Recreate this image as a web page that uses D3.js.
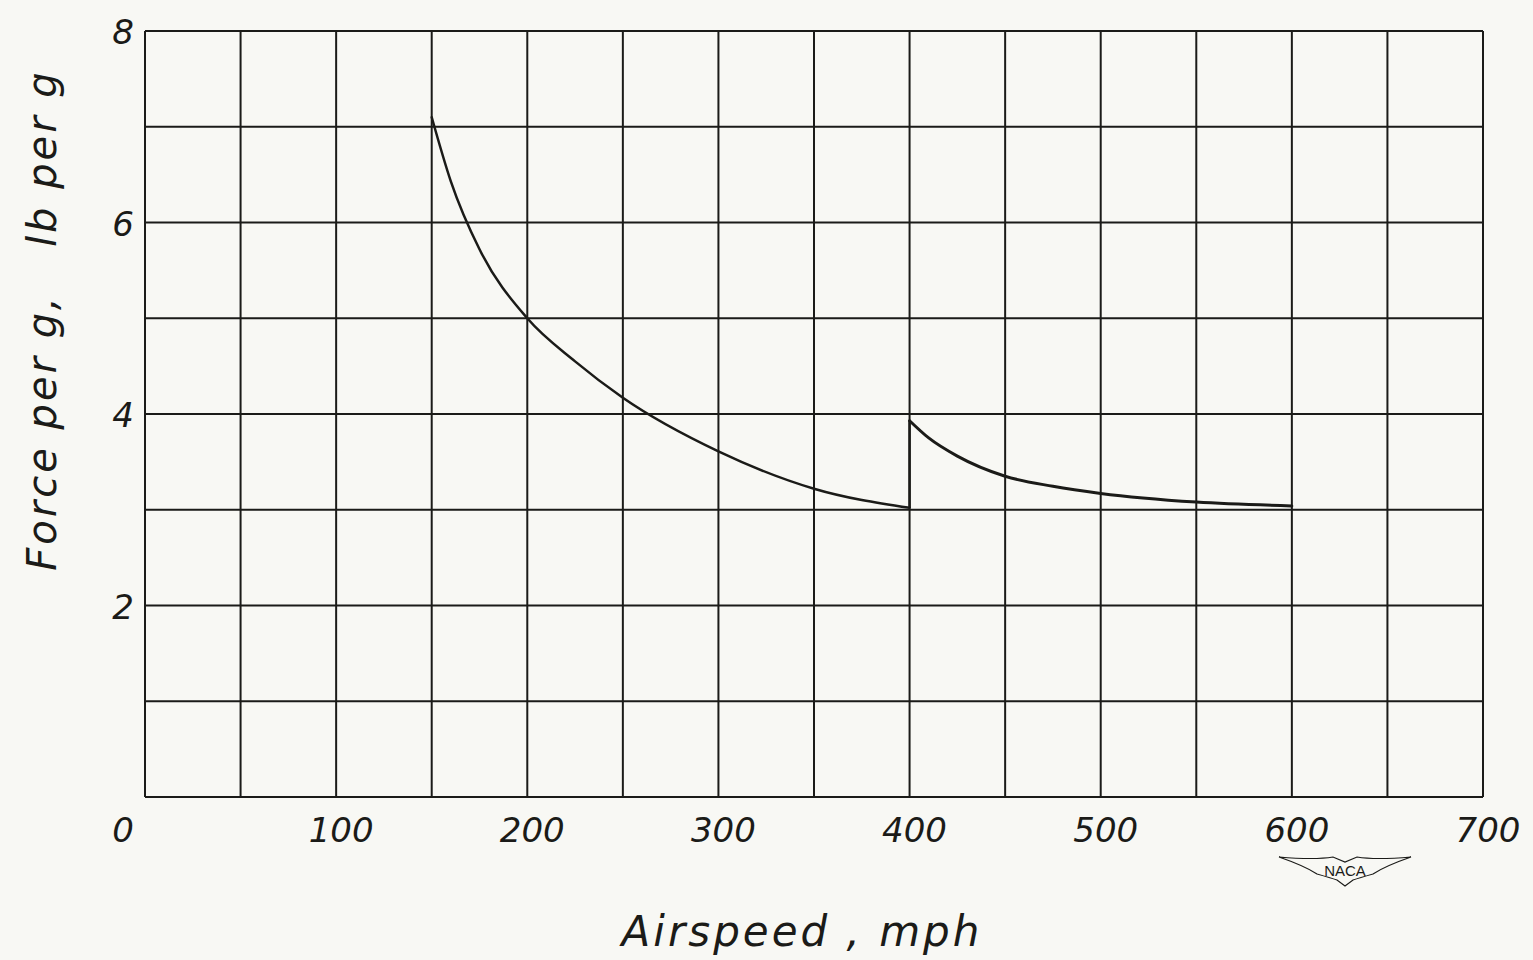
<!DOCTYPE html>
<html>
<head>
<meta charset="utf-8">
<script src="https://cdn.jsdelivr.net/npm/d3@7"></script>
<style>
  body { margin: 0; background: #f8f8f4; }
  svg { display: block; }
</style>
</head>
<body>
<svg id="chart"></svg>
<script>
// curve below 400 mph
var lowSpeed = [150, 160, 175, 200, 225, 250, 300, 350, 400];
var lowForce = [7.1, 6.43, 5.72, 5.0, 4.55, 4.17, 3.61, 3.22, 3.02];
// curve above 400 mph
var highSpeed = [400, 400, 410, 425, 450, 475, 500, 550, 600];
var highForce = [3.02, 3.93, 3.75, 3.56, 3.35, 3.245, 3.17, 3.08, 3.04];

var xTicks = [0, 100, 200, 300, 400, 500, 600, 700];
var yTicks = [2, 4, 6, 8];

var width = 1533, height = 960;
var plotLeft = 145, plotRight = 1483, plotTop = 31, plotBottom = 797;
var ink = "#1b1b18";
var handFont = "'DejaVu Sans', sans-serif";

var svg = d3.select("#chart")
    .attr("width", width)
    .attr("height", height);

svg.append("rect")
    .attr("width", width)
    .attr("height", height)
    .attr("fill", "#f8f8f4");

var x = d3.scaleLinear().domain([0, 700]).range([plotLeft, plotRight]);
var y = d3.scaleLinear().domain([0, 8]).range([plotBottom, plotTop]);

// grid, every 50 mph and every 1 lb
var grid = svg.append("g")
    .attr("stroke", ink)
    .attr("stroke-width", 2);

grid.selectAll("line.v")
    .data(d3.range(0, 701, 50))
    .join("line")
    .attr("class", "v")
    .attr("x1", d => x(d)).attr("x2", d => x(d))
    .attr("y1", y(0)).attr("y2", y(8));

grid.selectAll("line.h")
    .data(d3.range(0, 9, 1))
    .join("line")
    .attr("class", "h")
    .attr("x1", x(0)).attr("x2", x(700))
    .attr("y1", d => y(d)).attr("y2", d => y(d));

// tick labels
svg.append("g")
    .selectAll("text")
    .data(xTicks)
    .join("text")
    .attr("x", d => x(d) + (d == 0 ? -22 : 5))
    .attr("y", 842)
    .attr("text-anchor", "middle")
    .attr("font-family", handFont)
    .attr("font-style", "italic")
    .attr("font-weight", 300)
    .attr("font-size", 34)
    .attr("fill", ink)
    .text(d => d);

svg.append("g")
    .selectAll("text")
    .data(yTicks)
    .join("text")
    .attr("x", 134)
    .attr("y", d => y(d) + 13)
    .attr("text-anchor", "end")
    .attr("font-family", handFont)
    .attr("font-style", "italic")
    .attr("font-weight", 300)
    .attr("font-size", 34)
    .attr("fill", ink)
    .text(d => d);

// curves
var line = d3.line()
    .x(d => x(d[0]))
    .y(d => y(d[1]))
    .curve(d3.curveMonotoneX);

svg.append("path")
    .datum(d3.zip(lowSpeed, lowForce))
    .attr("d", line)
    .attr("fill", "none")
    .attr("stroke", ink)
    .attr("stroke-width", 2.5)
    .attr("stroke-linecap", "round");

// the jump at 400 is straight, the rest is smooth
svg.append("line")
    .attr("x1", x(highSpeed[0])).attr("x2", x(highSpeed[1]))
    .attr("y1", y(highForce[0])).attr("y2", y(highForce[1]))
    .attr("stroke", ink)
    .attr("stroke-width", 2.5);

svg.append("path")
    .datum(d3.zip(highSpeed.slice(1), highForce.slice(1)))
    .attr("d", line)
    .attr("fill", "none")
    .attr("stroke", ink)
    .attr("stroke-width", 3)
    .attr("stroke-linecap", "round");

// axis titles
svg.append("text")
    .attr("transform", "translate(56,320) rotate(-90)")
    .attr("text-anchor", "middle")
    .attr("font-family", handFont)
    .attr("font-style", "italic")
    .attr("font-weight", 300)
    .attr("font-size", 40)
    .attr("letter-spacing", 3)
    .attr("fill", ink)
    .attr("xml:space", "preserve")
    .text("Force per g,   lb per g");

svg.append("text")
    .attr("x", 802)
    .attr("y", 946)
    .attr("text-anchor", "middle")
    .attr("font-family", handFont)
    .attr("font-style", "italic")
    .attr("font-weight", 300)
    .attr("font-size", 42)
    .attr("letter-spacing", 3)
    .attr("fill", ink)
    .attr("xml:space", "preserve")
    .text("Airspeed , mph");

// NACA wings mark
var logo = svg.append("g").attr("transform", "translate(1345,870)");
logo.append("path")
    .attr("d", "M-66,-13 Q-30,-10 -12,-13 L0,-8 L12,-13 Q30,-10 66,-13 Q40,-4 28,4 Q14,8 8,10 L0,16 L-8,10 Q-14,8 -28,4 Q-40,-4 -66,-13 Z")
    .attr("fill", "none")
    .attr("stroke", ink)
    .attr("stroke-width", 1.2);
logo.append("text")
    .attr("x", 0)
    .attr("y", 6)
    .attr("text-anchor", "middle")
    .attr("font-family", "'Liberation Sans', sans-serif")
    .attr("font-size", 15)
    .attr("fill", ink)
    .text("NACA");
</script>
</body>
</html>
